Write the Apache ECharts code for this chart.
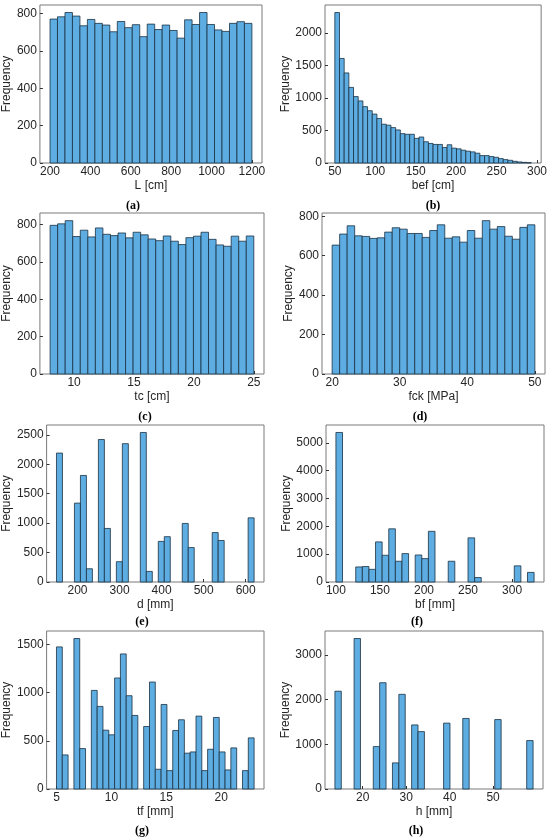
<!DOCTYPE html>
<html>
<head>
<meta charset="utf-8">
<script src="https://cdn.jsdelivr.net/npm/echarts@6/dist/echarts.min.js"></script>
<style>
  html, body { margin: 0; padding: 0; background: #fff; }
  #main { width: 550px; height: 837px; }
</style>
</head>
<body>
<div id="main"></div>
<script>
// histogram data: [first edge, last edge] + counts per equal-width bin
const rangeL = [200, 1200];
const countsL = [770, 782, 805, 786, 734, 768, 747, 738, 702, 757, 724, 740, 676, 743, 714, 738, 709, 668, 766, 741, 805, 741, 712, 704, 747, 756, 747];
const ticksL = [200, 400, 600, 800, 1000, 1200];
const yTicksL = [0, 200, 400, 600, 800];

const rangeBef = [50, 293];
const countsBef = [2317, 1610, 1387, 1164, 1023, 956, 868, 805, 753, 686, 597, 582, 545, 509, 452, 442, 442, 379, 400, 327, 301, 286, 286, 239, 281, 229, 218, 197, 182, 171, 151, 114, 114, 99, 88, 68, 52, 42, 26, 16, 10, 5];
const ticksBef = [50, 100, 150, 200, 250, 300];
const yTicksBef = [0, 500, 1000, 1500, 2000];

const rangeTc = [8, 25];
const countsTc = [796, 804, 821, 736, 770, 734, 782, 748, 741, 755, 729, 759, 745, 723, 714, 739, 711, 693, 730, 738, 759, 721, 691, 684, 738, 711, 739];
const ticksTc = [10, 15, 20, 25];
const yTicksTc = [0, 200, 400, 600, 800];

const rangeFck = [20, 50];
const countsFck = [654, 710, 752, 701, 698, 688, 691, 720, 742, 735, 713, 713, 693, 728, 757, 689, 696, 669, 728, 689, 778, 735, 748, 699, 684, 744, 757];
const ticksFck = [20, 30, 40, 50];
const yTicksFck = [0, 200, 400, 600, 800];

const rangeD = [150, 620];
const countsD = [2190, 0, 0, 1340, 1810, 225, 0, 2420, 910, 0, 345, 2350, 0, 0, 2540, 180, 0, 690, 770, 0, 0, 995, 585, 0, 0, 0, 840, 705, 0, 0, 0, 0, 1090];
const ticksD = [200, 300, 400, 500, 600];
const yTicksD = [0, 500, 1000, 1500, 2000, 2500];

const rangeBf = [100, 325];
const countsBf = [5370, 0, 0, 540, 555, 455, 1440, 960, 1910, 745, 1020, 0, 970, 840, 1820, 0, 0, 745, 0, 0, 1585, 160, 0, 0, 0, 0, 0, 580, 0, 345];
const ticksBf = [100, 150, 200, 250, 300];
const yTicksBf = [0, 1000, 2000, 3000, 4000, 5000];

const rangeTf = [5, 23];
const countsTf = [1476, 354, 0, 1563, 420, 0, 1024, 858, 611, 563, 1153, 1403, 969, 764, 0, 649, 1111, 205, 878, 191, 608, 719, 372, 385, 757, 191, 413, 743, 385, 198, 427, 0, 191, 531];
const ticksTf = [5, 10, 15, 20];
const yTicksTf = [0, 500, 1000, 1500];

const rangeH = [13.6, 59.2];
const countsH = [2190, 0, 0, 3370, 0, 0, 950, 2380, 0, 585, 2120, 0, 1435, 1285, 0, 0, 0, 1475, 0, 0, 1580, 0, 0, 0, 0, 1555, 0, 0, 0, 0, 1085];
const ticksH = [20, 30, 40, 50];
const yTicksH = [0, 1000, 2000, 3000];

const panels = [
  { tag: '(a)', xname: 'L [cm]', range: rangeL, counts: countsL, xt: ticksL, yt: yTicksL,
    grid: { left: 37, top: 5, width: 225, height: 158 }, lx: 128, ly: 195 },
  { tag: '(b)', xname: 'bef [cm]', range: rangeBef, counts: countsBef, xt: ticksBef, yt: yTicksBef,
    grid: { left: 325, top: 5, width: 219, height: 158 }, lx: 428, ly: 195 },
  { tag: '(c)', xname: 'tc [cm]', range: rangeTc, counts: countsTc, xt: ticksTc, yt: yTicksTc,
    grid: { left: 38, top: 213, width: 226, height: 161 }, lx: 140, ly: 406 },
  { tag: '(d)', xname: 'fck [MPa]', range: rangeFck, counts: countsFck, xt: ticksFck, yt: yTicksFck,
    grid: { left: 322, top: 213, width: 223, height: 161 }, lx: 415, ly: 406 },
  { tag: '(e)', xname: 'd [mm]', range: rangeD, counts: countsD, xt: ticksD, yt: yTicksD,
    grid: { left: 43, top: 425, width: 221, height: 157 }, lx: 137, ly: 611 },
  { tag: '(f)', xname: 'bf [mm]', range: rangeBf, counts: countsBf, xt: ticksBf, yt: yTicksBf,
    grid: { left: 326, top: 425, width: 218, height: 157 }, lx: 412, ly: 611 },
  { tag: '(g)', xname: 'tf [mm]', range: rangeTf, counts: countsTf, xt: ticksTf, yt: yTicksTf,
    grid: { left: 43, top: 631, width: 221, height: 158 }, lx: 137, ly: 820 },
  { tag: '(h)', xname: 'h [mm]', range: rangeH, counts: countsH, xt: ticksH, yt: yTicksH,
    grid: { left: 325, top: 631, width: 218, height: 158 }, lx: 411, ly: 820 }
];

const textColor = '#262626';
const frameColor = '#7a7a7a';
const font = 'Liberation Sans, Arial, sans-serif';

const option = { animation: false, title: [], grid: [], xAxis: [], yAxis: [], series: [] };

panels.forEach((p, i) => {
  const lo = p.range[0], hi = p.range[1];
  const w = (hi - lo) / p.counts.length;
  const ymax = Math.max(...p.counts) * 1.05; // 5% headroom like matplotlib
  const pad = (hi - lo) * 0.05;
  const data = [];
  p.counts.forEach((c, k) => {
    if (c > 0) data.push([lo + k * w, lo + (k + 1) * w, c]);
  });
  const longLabels = p.yt[p.yt.length - 1] >= 1000;

  option.grid.push(Object.assign({ show: true, borderColor: frameColor, borderWidth: 1 }, p.grid));
  option.title.push({
    text: p.tag, left: p.lx, top: p.ly, textAlign: 'center',
    textStyle: { fontFamily: 'Liberation Serif, serif', fontWeight: 'bold', fontSize: 12, color: '#000' }
  });
  option.xAxis.push({
    type: 'value', gridIndex: i, min: lo - pad, max: hi + pad,
    name: p.xname, nameLocation: 'middle', nameGap: 17,
    nameTextStyle: { color: textColor, fontSize: 12, fontFamily: font },
    axisLine: { show: false },
    splitLine: { show: false },
    axisTick: { show: true, inside: true, length: 3, customValues: p.xt, lineStyle: { color: '#333' } },
    axisLabel: { customValues: p.xt, formatter: v => String(v), color: textColor, fontSize: 12, fontFamily: font, margin: 3 }
  });
  option.yAxis.push({
    type: 'value', gridIndex: i, min: 0, max: ymax,
    name: 'Frequency', nameLocation: 'middle', nameGap: longLabels ? 25 : 19,
    nameTextStyle: { color: textColor, fontSize: 12, fontFamily: font },
    axisLine: { show: false },
    splitLine: { show: false },
    axisTick: { show: true, inside: true, length: 3, customValues: p.yt, lineStyle: { color: '#333' } },
    axisLabel: { customValues: p.yt, formatter: v => String(v), color: textColor, fontSize: 12, fontFamily: font, margin: 3 }
  });
  option.series.push({
    type: 'custom', xAxisIndex: i, yAxisIndex: i,
    encode: { x: [0, 1], y: 2 },
    data: data,
    renderItem: function (params, api) {
      const a = api.coord([api.value(0), api.value(2)]);
      const b = api.coord([api.value(1), 0]);
      return {
        type: 'rect',
        shape: { x: a[0], y: a[1], width: b[0] - a[0], height: b[1] - a[1] },
        style: { fill: '#5dade2', stroke: '#1b3142', lineWidth: 0.8 }
      };
    }
  });
});

const myChart = echarts.init(document.getElementById('main'));
myChart.setOption(option);
</script>
</body>
</html>
